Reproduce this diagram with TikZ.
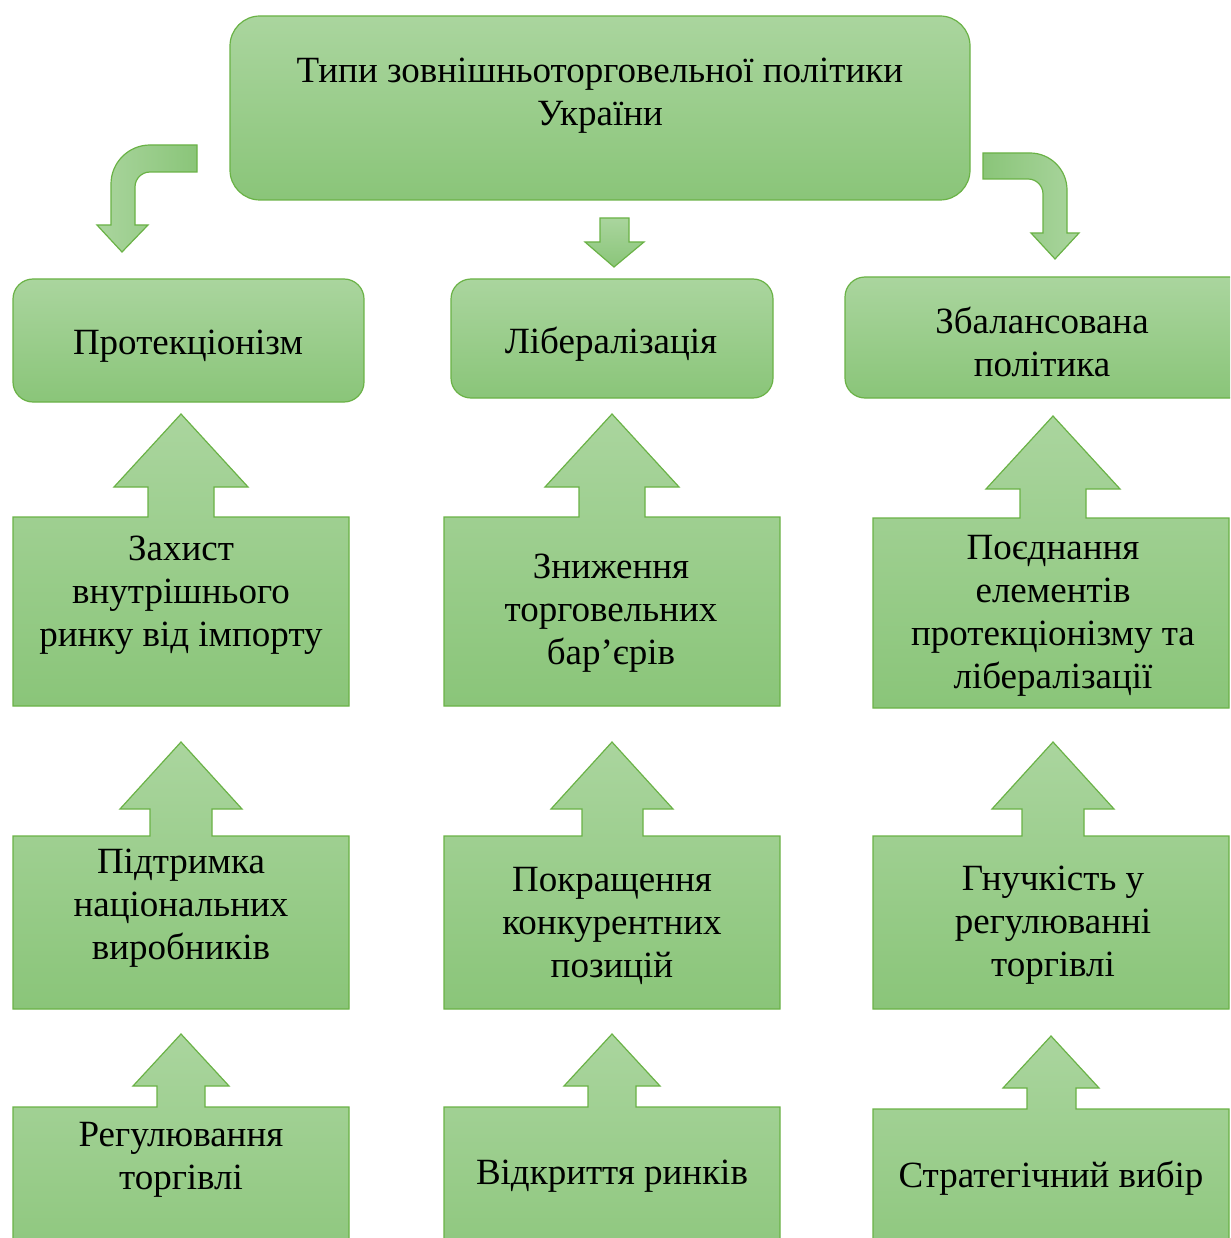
\documentclass[tikz,border=0pt]{standalone}
\usepackage{fontspec}
\setmainfont{Liberation Serif}
\usepackage{tikz}
\usetikzlibrary{intersections}

\definecolor{gtop}{RGB}{170,213,158}
\definecolor{gbot}{RGB}{138,197,121}
\definecolor{gline}{RGB}{106,178,70}

\tikzset{
    shapebox/.style={draw=gline, line width=1.2pt, top color=gtop, bottom color=gbot},
    bendarrow/.style={draw=gline, line width=1.2pt},
    txt/.style={font=\fontsize{37}{43}\selectfont, align=center, inner sep=0pt, text=black}
}

\begin{document}
\begin{tikzpicture}[x=1pt, y=-1pt]

            \useasboundingbox (0,0) rectangle (1230,1238);
            \clip (0,0) rectangle (1230,1238);

            \draw[name path=types, shapebox, rounded corners=30pt] (230,16) rectangle (970,200);
            \node[txt] (types) at (600,95.5) {Типи зовнішньоторговельної політики\\України};

            \draw[name path=bendleft, bendarrow, left color=gtop, right color=gbot] (197,145)
            -- (150,145) .. controls (128.5,145) and (111,162.5) .. (111,184)
            -- (111,225) -- (97,225) -- (122,252) -- (148,225) -- (135,225)
            -- (135,187) .. controls (135,178.7) and (141.7,172) .. (150,172)
            -- (197,172) -- cycle;

            \draw[name path=down, shapebox] (600,218) -- (629,218) -- (629,242)
            -- (644,242) -- (614,267) -- (585,242) -- (600,242) -- cycle;

            \draw[name path=bendright, bendarrow, left color=gbot, right color=gtop] (983,153)
            -- (1030,153) .. controls (1050.4,153) and (1067,169.6) .. (1067,190)
            -- (1067,233) -- (1079,233) -- (1055,259) -- (1031,233) -- (1043,233)
            -- (1043,194) .. controls (1043,185.7) and (1036.3,179) .. (1028,179)
            -- (983,179) -- cycle;

            \draw[name path=prot, shapebox, rounded corners=20pt] (13,279) rectangle (364,402);
            \node[txt] (prot) at (188,346.5) {Протекціонізм};

            \draw[name path=lib, shapebox, rounded corners=20pt] (451,279) rectangle (773,398);
            \node[txt] (lib) at (611,344.5) {Лібералізація};

            \draw[name path=bal, shapebox, rounded corners=20pt] (845,277) rectangle (1250,398);
            \node[txt] (bal) at (1042,342) {Збалансована\\політика};

            \draw[name path=protA, shapebox] (13,517) -- (148,517) -- (148,487)
            -- (114,487) -- (181,414) -- (248,487) -- (214,487) -- (214,517)
            -- (349,517) -- (349,706) -- (13,706) -- cycle;
            \node[txt] (protA) at (181,595.5) {Захист\\внутрішнього\\ринку від імпорту};

            \draw[name path=libA, shapebox] (444,517) -- (579,517) -- (579,487)
            -- (545,487) -- (612,414) -- (679,487) -- (645,487) -- (645,517)
            -- (780,517) -- (780,706) -- (444,706) -- cycle;
            \node[txt] (libA) at (611,613.5) {Зниження\\торговельних\\бар’єрів};

            \draw[name path=balA, shapebox] (873,518) -- (1020,518) -- (1020,489)
            -- (986,489) -- (1053,416) -- (1120,489) -- (1086,489) -- (1086,518)
            -- (1229,518) -- (1229,708) -- (873,708) -- cycle;
            \node[txt] (balA) at (1053,616) {Поєднання\\елементів\\протекціонізму та\\лібералізації};

            \draw[name path=protB, shapebox] (13,836) -- (150,836) -- (150,809)
            -- (120,809) -- (181,742) -- (242,809) -- (212,809) -- (212,836)
            -- (349,836) -- (349,1009) -- (13,1009) -- cycle;
            \node[txt] (protB) at (181,908.5) {Підтримка\\національних\\виробників};

            \draw[name path=libB, shapebox] (444,836) -- (582,836) -- (582,809)
            -- (551,809) -- (612,742) -- (673,809) -- (643,809) -- (643,836)
            -- (780,836) -- (780,1009) -- (444,1009) -- cycle;
            \node[txt] (libB) at (612,925.5) {Покращення\\конкурентних\\позицій};

            \draw[name path=balB, shapebox] (873,836) -- (1022,836) -- (1022,809)
            -- (992,809) -- (1053,742) -- (1114,809) -- (1084,809) -- (1084,836)
            -- (1229,836) -- (1229,1009) -- (873,1009) -- cycle;
            \node[txt] (balB) at (1053,925.5) {Гнучкість у\\регулюванні\\торгівлі};

            \draw[name path=protC, shapebox] (13,1107) -- (157,1107) -- (157,1086)
            -- (133,1086) -- (181,1034) -- (229,1086) -- (205,1086) -- (205,1107)
            -- (349,1107) -- (349,1290) -- (13,1290) -- cycle;
            \node[txt] (protC) at (181,1159.5) {Регулювання\\торгівлі};

            \draw[name path=libC, shapebox] (444,1107) -- (588,1107) -- (588,1086)
            -- (564,1086) -- (612,1034) -- (660,1086) -- (636,1086) -- (636,1107)
            -- (780,1107) -- (780,1290) -- (444,1290) -- cycle;
            \node[txt] (libC) at (612,1176.5) {Відкриття ринків};

            \draw[name path=balC, shapebox] (873,1109) -- (1027,1109) -- (1027,1088)
            -- (1003,1088) -- (1051,1036) -- (1099,1088) -- (1076,1088) -- (1076,1109)
            -- (1229,1109) -- (1229,1290) -- (873,1290) -- cycle;
            \node[txt] (balC) at (1051,1178.5) {Стратегічний вибір};
        \end{tikzpicture}
\end{document}
